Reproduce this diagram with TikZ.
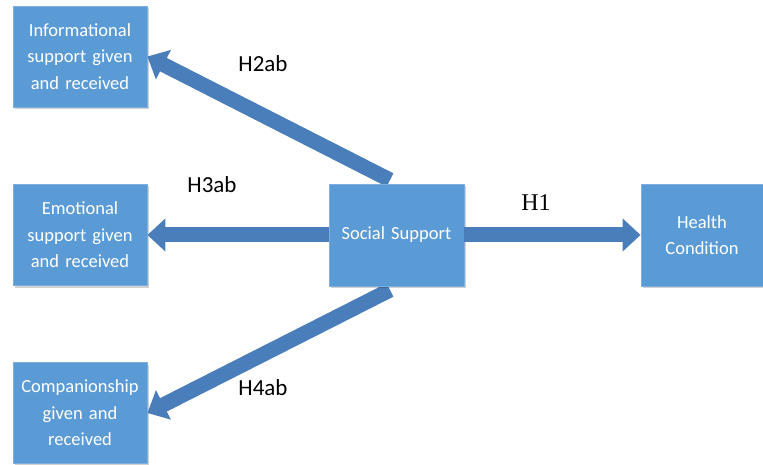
\documentclass[tikz,border=0pt]{standalone}
\usepackage{fontspec}
\setmainfont{Carlito}
\newfontfamily\serifH{Liberation Serif}
\usetikzlibrary{arrows.meta,shadows}
\definecolor{boxblue}{HTML}{5B9BD5}
\definecolor{boxedge}{HTML}{7DB0DE}
\definecolor{arrowblue}{HTML}{4A7EBB}
\tikzset{
  bluebox/.style={rectangle, fill=boxblue, draw=boxedge, line width=0.8pt,
    minimum width=134pt, minimum height=101pt, text width=132pt, align=center,
    text=white, inner sep=1pt,
    font=\fontsize{18.5}{26.5}\selectfont,
    drop shadow={shadow xshift=2pt, shadow yshift=-2pt, opacity=0.18, fill=black}},
  bigarrow/.style={draw=arrowblue, line width=15pt,
    -{Triangle[width=32pt,length=18pt]}, arrowblue},
  hlabel/.style={text=black, font=\fontsize{23}{26}\selectfont, inner sep=0pt}
}
\begin{document}
\begin{tikzpicture}[x=1pt,y=-1pt]
\useasboundingbox (0,0) rectangle (763,465);
% arrow anchors
\coordinate (t2) at (390,180);
\coordinate (t4) at (390,290);
\coordinate (t3) at (331,235);
\coordinate (t1) at (462,235);
% boxes
\node[bluebox] (info) at (80,56.5) {Informational support given and received};
\node[bluebox] (emo) at (80,235) {Emotional support given and received};
\node[bluebox] (comp) at (80,413) {Companionship given and received};
% arrows
\draw[bigarrow] (t2) -- (info.east);
\draw[bigarrow] (t4) -- (comp.east);
\draw[bigarrow] (t3) -- (emo.east);
\node[bluebox, minimum width=135pt, minimum height=102pt] (soc) at (396.5,235) {Social Support};
\node[bluebox, minimum width=122pt, text width=118pt, minimum height=102pt] (health) at (702,235) {Health Condition};
\draw[bigarrow] (soc.east) -- (health.west);
% labels
\node[hlabel] (h2) at (263,64) {H2ab};
\node[hlabel] (h3) at (212,185) {H3ab};
\node[hlabel, font=\serifH\fontsize{24}{26}\selectfont] (h1) at (536,203) {H1};
\node[hlabel] (h4) at (263,388) {H4ab};
\end{tikzpicture}
\end{document}
